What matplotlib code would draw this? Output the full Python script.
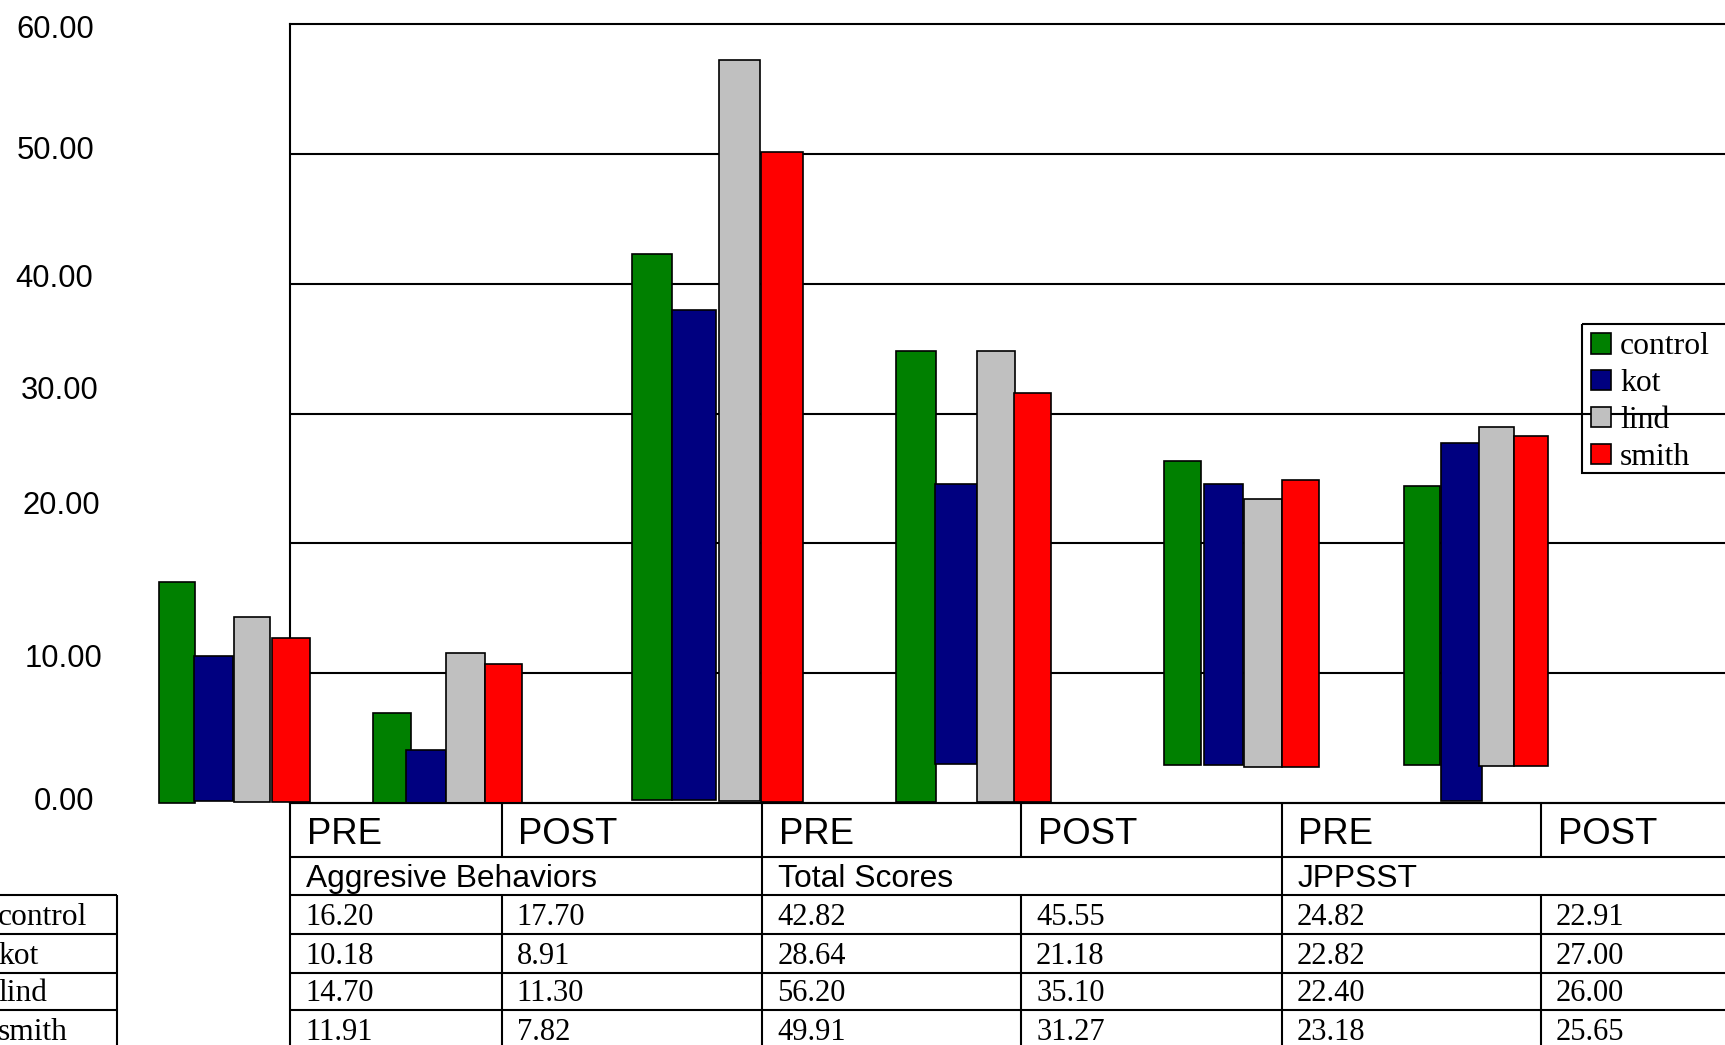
import matplotlib
matplotlib.use("Agg")
import matplotlib.pyplot as plt
from matplotlib.patches import Patch, Rectangle

W, H = 1725, 1045
SANS = "Liberation Sans"
SERIF = "Liberation Serif"

# ---- data -------------------------------------------------------------
series = ["control", "kot", "lind", "smith"]
colors = ["#008000", "#000080", "#C0C0C0", "#FF0000"]

phases = ["PRE", "POST", "PRE", "POST", "PRE", "POST"]
measures = ["Aggresive Behaviors", "Total Scores", "JPPSST"]

table_control = [16.20, 17.70, 42.82, 45.55, 24.82, 22.91]
table_kot = [10.18, 8.91, 28.64, 21.18, 22.82, 27.00]
table_lind = [14.70, 11.30, 56.20, 35.10, 22.40, 26.00]
table_smith = [11.91, 7.82, 49.91, 31.27, 23.18, 25.65]

# bar extents as plotted (top and floor of each bar)
top_control = [17.05, 6.90, 42.30, 34.80, 26.35, 24.45]
top_kot = [11.35, 4.10, 38.00, 24.60, 24.60, 27.70]
top_lind = [14.30, 11.55, 57.25, 34.80, 23.40, 29.00]
top_smith = [12.75, 10.70, 50.15, 31.55, 24.85, 28.30]

base_control = [0.00, 0.00, 0.25, 0.10, 2.95, 2.95]
base_kot = [0.15, 0.00, 0.25, 3.00, 2.95, 0.15]
base_lind = [0.10, 0.00, 0.15, 0.05, 2.80, 2.85]
base_smith = [0.05, 0.00, 0.10, 0.05, 2.80, 2.85]

ytick_labels = ["60.00", "50.00", "40.00", "30.00", "20.00", "10.00", "0.00"]

tops = [top_control, top_kot, top_lind, top_smith]
bases = [base_control, base_kot, base_lind, base_smith]
table_rows = [table_control, table_kot, table_lind, table_smith]

# ---- layout (pixel units) --------------------------------------------
bar_left = [
    [159, 194, 234, 272],
    [373, 406, 446, 485],
    [632, 672, 719, 761],
    [896, 935, 977, 1014],
    [1164, 1204, 1244, 1282],
    [1404, 1441, 1479, 1514],
]
bar_width = [
    [36, 39, 36, 38],
    [38, 40, 39, 37],
    [40, 44, 41, 42],
    [40, 42, 38, 37],
    [37, 39, 38, 37],
    [36, 41, 35, 34],
]
ylab_pos = [(94, 38), (94, 159), (93, 287), (99, 399), (100, 514), (102, 667), (94, 810)]

frame_left, frame_top, frame_bottom, frame_right = 290, 24.2, 803, 1900
row_y = [803, 857.3, 895, 934, 972.5, 1010, 1048.5]
col_x = [290, 501.7, 762.3, 1021, 1281.6, 1541, 1802]
legend_box = (1581.7, 324, 250, 148.7)

fig = plt.figure(figsize=(W / 100, H / 100), dpi=100)
fig.patch.set_facecolor("white")

# ---- bar area ----------------------------------------------------------
ax = fig.add_axes([frame_left / W, 1 - frame_bottom / H,
                   (frame_right - frame_left) / W, (frame_bottom - frame_top) / H])
ax.set_xlim(frame_left, frame_right)
ax.set_ylim(0, 60)
ax.set_yticks([10, 20, 30, 40, 50])
ax.set_xticks([])
ax.tick_params(axis="y", length=0, labelleft=False)
ax.yaxis.grid(True, color="black", linewidth=1.5)
ax.set_axisbelow(True)
for side in ["left", "top", "bottom"]:
    ax.spines[side].set_linewidth(1.5)
ax.spines["right"].set_visible(False)

for s in range(len(series)):
    for g in range(len(phases)):
        ax.bar(bar_left[g][s], tops[s][g] - bases[s][g], width=bar_width[g][s],
               bottom=bases[s][g], align="edge", color=colors[s],
               edgecolor="black", linewidth=1.2, clip_on=False, zorder=3)

# legend entries; its box is drawn separately so it can run off the edge
handles = [Patch(facecolor=c, edgecolor="black", linewidth=1.2) for c in colors]
leg = ax.legend(handles, series, loc="upper left",
                bbox_to_anchor=(1590.7 / W, 1 - 332.3 / H),
                bbox_transform=fig.transFigure, frameon=False,
                borderaxespad=0, borderpad=0, handlelength=0.63, handleheight=0.63,
                handletextpad=0.3, labelspacing=0.25,
                prop={"family": SERIF, "size": 22.8})
leg.set_zorder(2)

for lab, (x, y) in zip(ytick_labels, ylab_pos):
    fig.text(x / W, 1 - y / H, lab, ha="right", va="baseline",
             family=SANS, fontsize=22.3)

# ---- data table --------------------------------------------------------
tab = fig.add_axes([0, 0, 1, 1])
tab.set_xlim(0, W)
tab.set_ylim(H, 0)
tab.axis("off")
lw = 1.5

bx, by, bw, bh = legend_box
tab.add_patch(Rectangle((bx, by), bw, bh, fill=False, edgecolor="black", linewidth=lw))

for y in row_y:
    tab.hlines(y, frame_left, W + 5, color="black", linewidth=lw)
tab.vlines(frame_left, frame_bottom, H + 5, color="black", linewidth=lw)
for x in [col_x[2], col_x[4]]:
    tab.vlines(x, row_y[0], H + 5, color="black", linewidth=lw)
for x in [col_x[1], col_x[3], col_x[5]]:
    tab.vlines(x, row_y[0], row_y[1], color="black", linewidth=lw)
    tab.vlines(x, row_y[2], H + 5, color="black", linewidth=lw)

for i, ph in enumerate(phases):
    tab.text(col_x[i] + 16.7, row_y[1] - 13.3, ph, ha="left", va="baseline",
             family=SANS, fontsize=26.3)
for j, m in enumerate(measures):
    tab.text(col_x[2 * j] + 16, row_y[2] - 7.7, m, ha="left", va="baseline",
             family=SANS, fontsize=22.9)
for r, vals in enumerate(table_rows):
    for i, v in enumerate(vals):
        tab.text(col_x[i] + 15, row_y[r + 3] - 9, f"{v:.2f}", ha="left",
                 va="baseline", family=SERIF, fontsize=22)

# series names beside the table rows
key_right = 116.7
for y in row_y[2:6]:
    tab.hlines(y, -5, key_right, color="black", linewidth=lw)
tab.vlines(key_right, row_y[2], H + 5, color="black", linewidth=lw)
for r, name in enumerate(series):
    tab.text(-2, row_y[r + 3] - 9, name, ha="left", va="baseline",
             family=SERIF, fontsize=22.7)

fig.savefig("out.png", dpi=100, facecolor="white")
